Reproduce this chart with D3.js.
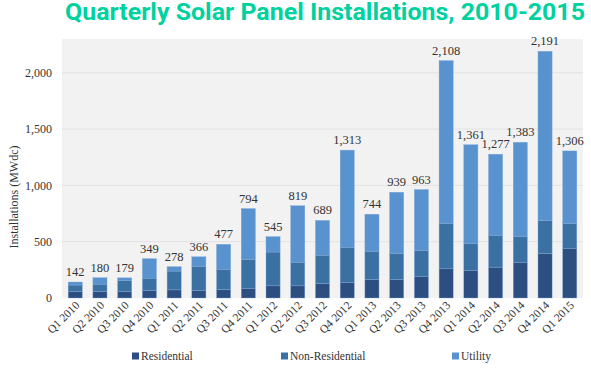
<!DOCTYPE html>
<html>
<head>
<meta charset="utf-8">
<script src="https://cdn.jsdelivr.net/npm/d3@7"></script>
<style>
  body { margin: 0; background: #fff; }
</style>
</head>
<body>
<div id="main"></div>
<script>
// quarters and the three stacked series (MWdc)
const quarters = ["Q1 2010","Q2 2010","Q3 2010","Q4 2010","Q1 2011","Q2 2011","Q3 2011","Q4 2011",
  "Q1 2012","Q2 2012","Q3 2012","Q4 2012","Q1 2013","Q2 2013","Q3 2013","Q4 2013",
  "Q1 2014","Q2 2014","Q3 2014","Q4 2014","Q1 2015"]
const residential = [56, 60, 60, 66, 72, 65, 75, 87, 108, 108, 128, 140, 164, 164, 193, 259, 247, 274, 318, 395, 437]
const nonResidential = [59, 63, 95, 110, 167, 217, 179, 254, 300, 209, 251, 310, 251, 230, 229, 401, 235, 283, 226, 294, 223]
const totals = [142, 180, 179, 349, 278, 366, 477, 794, 545, 819, 689, 1313, 744, 939, 963, 2108, 1361, 1277, 1383, 2191, 1306]
const utility = totals.map((t, i) => t - residential[i] - nonResidential[i])
const yTicks = [0, 500, 1000, 1500, 2000]
const seriesNames = ["Residential", "Non-Residential", "Utility"]
const colors = ["#2c4e80", "#3b70a3", "#5892cf"]

const serif = '"Liberation Serif", "Times New Roman", "DejaVu Serif", serif'
let width = 591, height = 375
let pLeft = 62, pRight = 583, pTop = 39, pBottom = 298

let svg = d3.select("#main").append("svg")
  .attr("width", width).attr("height", height)

svg.append("text")
  .attr("x", 65).attr("y", 20)
  .attr("textLength", 520).attr("lengthAdjust", "spacingAndGlyphs")
  .style("font-family", "Roboto, sans-serif")
  .style("font-weight", "bold")
  .style("font-size", "23px")
  .style("fill", "#00d29f")
  .text("Quarterly Solar Panel Installations, 2010-2015")

svg.append("rect")
  .attr("x", pLeft).attr("y", pTop)
  .attr("width", pRight - pLeft).attr("height", pBottom - pTop)
  .style("fill", "#f2f2f2")

const x = d3.scaleBand().domain(quarters).range([pLeft, pRight]).paddingInner(0.43).paddingOuter(0.25)
const y = d3.scaleLinear().domain([0, 2300]).range([pBottom, pTop])

// grid
svg.selectAll(".grid").data(yTicks.slice(1)).enter().append("line")
  .attr("x1", pLeft).attr("x2", pRight)
  .attr("y1", d => y(d)).attr("y2", d => y(d))
  .style("stroke", "#e2e2e2").style("stroke-width", 1)

let yAxis = d3.axisLeft(y).tickValues(yTicks).tickFormat(d3.format(",")).tickSize(0).tickPadding(10)
let gy = svg.append("g").attr("transform", `translate(${pLeft},0)`).call(yAxis)
gy.select(".domain").remove()
gy.selectAll("text").style("font-family", serif).style("font-size", "12px").style("fill", "#333").attr("x", -10)

svg.append("text")
  .attr("transform", "translate(18,197) rotate(-90)")
  .attr("text-anchor", "middle")
  .style("font-family", serif)
  .style("font-size", "12px").style("fill", "#333")
  .text("Installations (MWdc)")

const table = quarters.map((q, i) => ({ q, Residential: residential[i], "Non-Residential": nonResidential[i], Utility: utility[i] }))
const stacked = d3.stack().keys(seriesNames)(table)

svg.selectAll(".layer").data(stacked).enter().append("g")
  .style("fill", (d, i) => colors[i])
  .selectAll("rect").data(d => d).enter().append("rect")
  .attr("x", d => x(d.data.q))
  .attr("width", x.bandwidth())
  .attr("y", d => y(d[1]))
  .attr("height", d => y(d[0]) - y(d[1]))
  .style("stroke", "#7fa6d3").style("stroke-width", 0.4)

svg.selectAll(".val").data(totals).enter().append("text")
  .attr("x", (d, i) => x(quarters[i]) + x.bandwidth() / 2)
  .attr("y", d => y(d) - 6)
  .attr("text-anchor", "middle")
  .style("font-family", serif)
  .style("font-size", "12.5px").style("fill", "#333")
  .text(d => d3.format(",")(d))

svg.selectAll(".xl").data(quarters).enter().append("text")
  .attr("transform", d => `translate(${x(d) + x.bandwidth() / 2 + 5},306) rotate(-45)`)
  .attr("text-anchor", "end")
  .style("font-family", serif)
  .style("font-size", "11.5px").style("fill", "#333")
  .text(d => d)

const legendX = [132, 281, 452]
let lg = svg.selectAll(".lg").data(seriesNames).enter().append("g")
  .attr("transform", (d, i) => `translate(${legendX[i]},356)`)
lg.append("rect").attr("x", 0).attr("y", -3.5).attr("width", 7).attr("height", 7)
  .style("fill", (d, i) => colors[i])
lg.append("text").attr("x", 9).attr("y", 4)
  .style("font-family", serif)
  .style("font-size", "11.5px").style("fill", "#333")
  .text(d => d)
</script>
</body>
</html>
